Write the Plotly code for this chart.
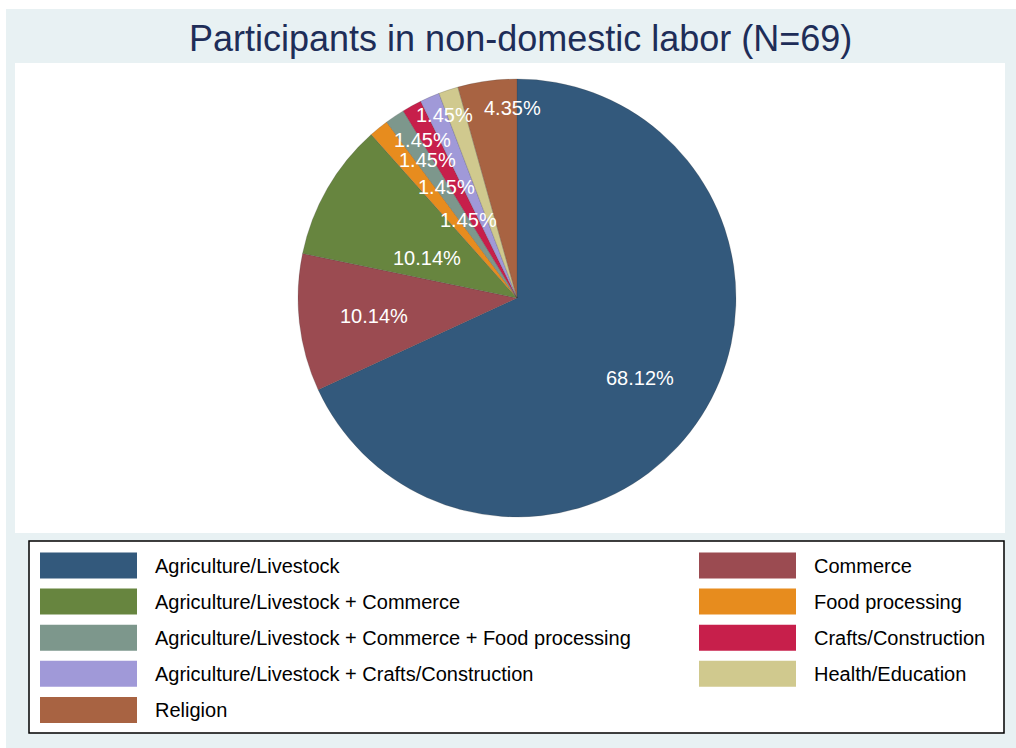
import math
import plotly.graph_objects as go

# ---- data ----
categories = [
    "Agriculture/Livestock",
    "Commerce",
    "Agriculture/Livestock + Commerce",
    "Food processing",
    "Agriculture/Livestock + Commerce + Food processing",
    "Crafts/Construction",
    "Agriculture/Livestock + Crafts/Construction",
    "Health/Education",
    "Religion",
]
counts = [47, 7, 7, 1, 1, 1, 1, 1, 3]
title_text = "Participants in non-domestic labor (N=69)"

# ---- style ----
colors = ["#33597C", "#9B4B51", "#67853F", "#E78C1E", "#7D978C",
          "#C71F4B", "#A099D8", "#D0C98E", "#A86342"]
# label placement (fraction of radius, angular nudge in degrees)
label_r = [0.67, 0.66, 0.45, 0.42, 0.60, 0.75, 0.84, 0.90, 0.87]
label_dt = [0.5, -0.7, -6.0, 7.0, 1.7, -4.3, -7.5, -3.2, 6.6]

W, H = 1016, 748
FONT = "Arial, Liberation Sans, sans-serif"


def px(x):
    return x / W


def py(y):
    return 1 - y / H


cx, cy, R = 517, 298, 219

fig = go.Figure(go.Pie(
    labels=categories,
    values=counts,
    sort=False,
    direction="clockwise",
    rotation=0,
    marker=dict(colors=colors, line=dict(color="rgba(60,60,60,0.35)", width=0.6)),
    textinfo="none",
    hoverinfo="label+percent",
    showlegend=False,
    domain=dict(x=[px(cx - R), px(cx + R)], y=[py(cy + R), py(cy - R)]),
))

shapes = [
    dict(type="rect", xref="paper", yref="paper", x0=px(6), x1=px(W + 2), y0=py(H + 2), y1=py(9),
         fillcolor="#E8F1F3", line=dict(width=0), layer="below"),
    dict(type="rect", xref="paper", yref="paper", x0=px(15), x1=px(1005), y0=py(533), y1=py(63),
         fillcolor="white", line=dict(width=0), layer="below"),
    dict(type="rect", xref="paper", yref="paper", x0=px(29), x1=px(1004), y0=py(733), y1=py(541),
         fillcolor="white", line=dict(color="black", width=1.5), layer="below"),
]

annotations = [
    dict(text=title_text, x=px(520), y=py(39), xref="paper", yref="paper",
         xanchor="center", yanchor="middle", showarrow=False,
         font=dict(family=FONT, size=36, color="#1E2D58")),
]

# slice percentage labels
total = sum(counts)
cum = 0
for i, v in enumerate(counts):
    mid = (cum + v / 2) / total * 360 + label_dt[i]
    cum += v
    th = math.radians(mid)
    lx = cx + label_r[i] * R * math.sin(th)
    ly = cy - label_r[i] * R * math.cos(th)
    annotations.append(dict(
        text=f"{100 * v / total:.2f}%", x=px(lx), y=py(ly), xref="paper", yref="paper",
        xanchor="center", yanchor="middle", showarrow=False,
        font=dict(family=FONT, size=20, color="white")))

# legend (two columns, row-major)
col_sw = [(40, 137, 153), (699, 796, 812)]
row0, row_step, sw_h = 565.5, 36.1, 26
for i, (name, col) in enumerate(zip(categories, colors)):
    r, c = divmod(i, 2)
    x0, x1, tx = col_sw[c]
    yc = row0 + r * row_step
    shapes.append(dict(type="rect", xref="paper", yref="paper",
                       x0=px(x0), x1=px(x1), y0=py(yc + sw_h / 2), y1=py(yc - sw_h / 2),
                       fillcolor=col, line=dict(width=0), layer="above"))
    annotations.append(dict(text=name, x=px(tx), y=py(yc), xref="paper", yref="paper",
                            xanchor="left", yanchor="middle", showarrow=False,
                            font=dict(family=FONT, size=20, color="black")))

fig.update_layout(
    width=W, height=H,
    margin=dict(l=0, r=0, t=0, b=0),
    paper_bgcolor="white",
    plot_bgcolor="white",
    shapes=shapes,
    annotations=annotations,
)

fig.write_html("out.html", config={"displayModeBar": False},
               post_script="document.body.style.margin='0px';document.body.style.overflow='hidden';")
